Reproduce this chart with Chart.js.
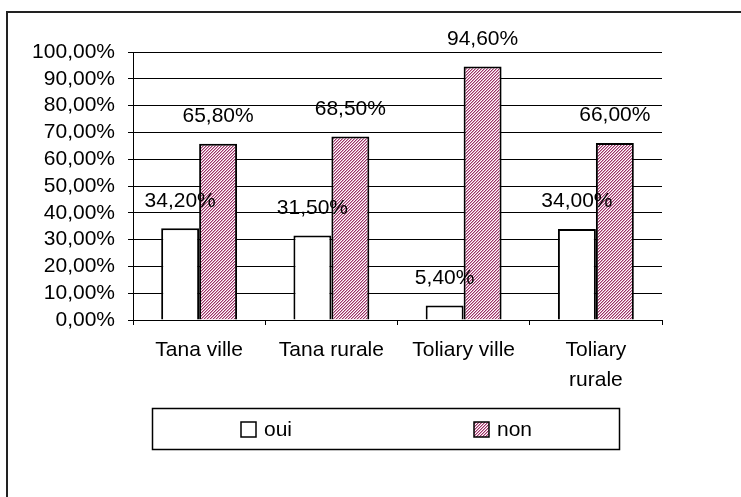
<!DOCTYPE html>
<html>
<head>
<meta charset="utf-8">
<script src="https://cdn.jsdelivr.net/npm/chart.js@4"></script>
<style>
  html, body { margin: 0; padding: 0; background: #fff; }
  #wrap { position: relative; width: 741px; height: 497px; overflow: hidden; }
  #frame { position: absolute; left: 6px; top: 11px; width: 900px; height: 700px; border-left: 2px solid #222; border-top: 2px solid #222; }
  canvas { position: absolute; left: 0; top: 0; }
</style>
</head>
<body>
<div id="wrap">
  <div id="frame"></div>
  <canvas id="c" width="741" height="497"></canvas>
</div>
<script>
const categories = ['Tana ville', 'Tana rurale', 'Toliary ville', ['Toliary', 'rurale']];
const seriesNames = ['oui', 'non'];
const ouiValues = [34.2, 31.5, 5.4, 34.0];
const nonValues = [65.8, 68.5, 94.6, 66.0];
const yTicks = [0, 10, 20, 30, 40, 50, 60, 70, 80, 90, 100];

const FONT = '"Liberation Sans", Arial, sans-serif';
const FS = 21;

function makePattern() {
  const p = document.createElement('canvas');
  p.width = 3; p.height = 3;
  const g = p.getContext('2d');
  const cols = ['#993366', '#d79bb9', '#ffffff'];
  for (let x = 0; x < 3; x++) for (let y = 0; y < 3; y++) {
    g.fillStyle = cols[(x + y) % 3];
    g.fillRect(x, y, 1, 1);
  }
  return document.getElementById('c').getContext('2d').createPattern(p, 'repeat');
}
const hatch = makePattern();

function fmt(v) { return v.toFixed(2).replace('.', ',') + '%'; }

const labelPlugin = {
  id: 'valueLabels',
  afterDatasetsDraw(chart) {
    const ctx = chart.ctx;
    ctx.save();
    ctx.font = FS + 'px ' + FONT;
    ctx.fillStyle = '#000';
    ctx.textAlign = 'center';
    ctx.textBaseline = 'middle';
    chart.data.datasets.forEach((ds, i) => {
      chart.getDatasetMeta(i).data.forEach((el, j) => {
        ctx.fillText(fmt(ds.data[j]), el.x, el.y - 27.5);
      });
    });
    ctx.restore();
  }
};

const legendPlugin = {
  id: 'boxLegend',
  afterDraw(chart) {
    const ctx = chart.ctx;
    ctx.save();
    ctx.strokeStyle = '#000';
    ctx.lineWidth = 1.5;
    ctx.strokeRect(152.5, 408.5, 467, 41);
    const items = [
      { x: 241, fill: '#ffffff' },
      { x: 474, fill: hatch }
    ];
    ctx.font = FS + 'px ' + FONT;
    ctx.textBaseline = 'middle';
    ctx.textAlign = 'left';
    chart.data.datasets.forEach((ds, i) => {
      const it = items[i];
      ctx.fillStyle = it.fill;
      ctx.fillRect(it.x, 422, 15, 15);
      ctx.lineWidth = 1.5;
      ctx.strokeStyle = '#000';
      ctx.strokeRect(it.x, 422, 15, 15);
      ctx.fillStyle = '#000';
      ctx.fillText(ds.label, it.x + 23, 430);
    });
    ctx.restore();
  }
};

new Chart(document.getElementById('c'), {
  type: 'bar',
  data: {
    labels: categories,
    datasets: [
      { label: seriesNames[0], data: ouiValues, backgroundColor: '#ffffff', borderColor: '#000', borderWidth: 2 },
      { label: seriesNames[1], data: nonValues, backgroundColor: hatch, borderColor: '#000', borderWidth: 2 }
    ]
  },
  options: {
    responsive: false,
    animation: false,
    devicePixelRatio: 1,
    layout: { padding: { left: 0, top: 52, right: 79, bottom: 0 } },
    plugins: { legend: { display: false }, tooltip: { enabled: false } },
    datasets: { bar: { categoryPercentage: 0.574, barPercentage: 1.0 } },
    scales: {
      x: {
        grid: { display: true, drawOnChartArea: false, color: '#000', tickLength: 5, offset: true },
        border: { color: '#000', width: 1 },
        ticks: { color: '#000', font: { family: FONT, size: FS, lineHeight: 1.42 }, padding: 10, maxRotation: 0, autoSkip: false },
        afterFit(s) { s.height = 177; }
      },
      y: {
        min: 0, max: 100,
        afterBuildTicks(s) { s.ticks = yTicks.map(v => ({ value: v })); },
        grid: { color: '#000', tickLength: 5, lineWidth: 1 },
        border: { color: '#000', width: 1 },
        ticks: { color: '#000', font: { family: FONT, size: FS, lineHeight: 1.0 }, padding: 13, autoSkip: false, callback: v => fmt(v) },
        afterFit(s) { s.width = 133; }
      }
    }
  },
  plugins: [labelPlugin, legendPlugin]
});
</script>
</body>
</html>
